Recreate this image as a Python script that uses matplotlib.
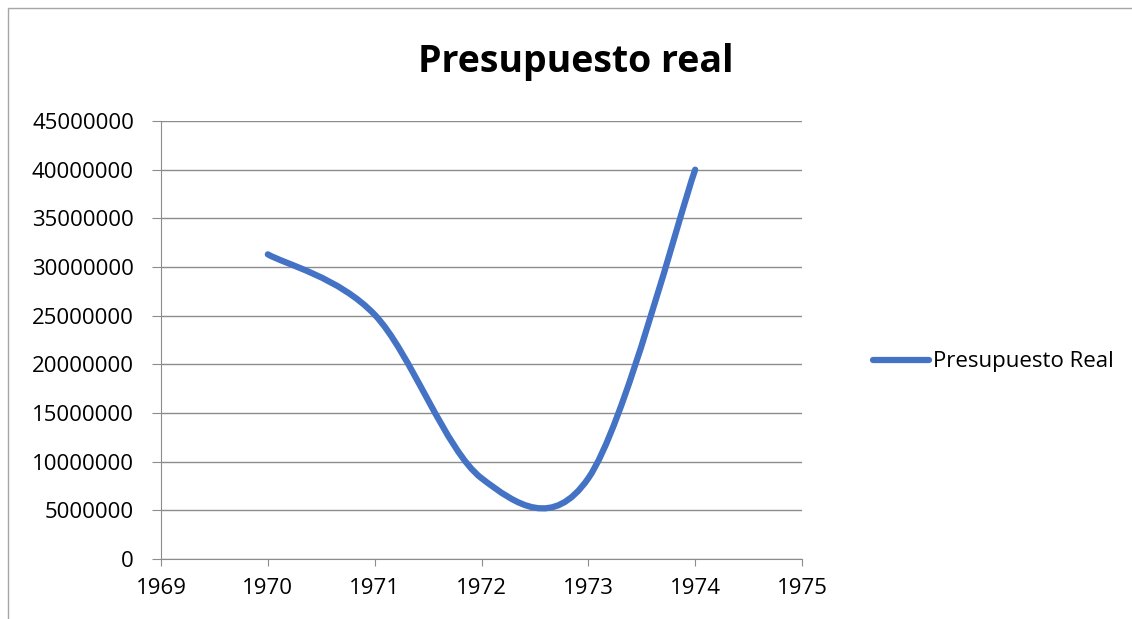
import numpy as np
import matplotlib.pyplot as plt
from matplotlib.path import Path
from matplotlib.patches import PathPatch, Rectangle
from matplotlib.lines import Line2D

# datos
anios = [1970, 1971, 1972, 1973, 1974]
presupuesto = [31300000, 25100000, 8300000, 8300000, 40000000]

plt.rcParams['font.family'] = ['Open Sans', 'DejaVu Sans']

fig = plt.figure(figsize=(11.32, 6.19), dpi=100)
ax = fig.add_axes([161 / 1132, 1 - 559 / 619, (802 - 161) / 1132, (559 - 121) / 619])

# linea suavizada tipo Excel (Bezier Catmull-Rom)
x = np.array(anios, dtype=float)
y = np.array(presupuesto, dtype=float)
pts = np.column_stack([x, y])
verts = [pts[0]]
codes = [Path.MOVETO]
n = len(pts)
for i in range(n - 1):
    p0 = pts[max(i - 1, 0)]
    p1 = pts[i]
    p2 = pts[i + 1]
    p3 = pts[min(i + 2, n - 1)]
    c1 = p1 + (p2 - p0) / 6
    c2 = p2 - (p3 - p1) / 6
    verts += [c1, c2, p2]
    codes += [Path.CURVE4] * 3
ax.add_patch(PathPatch(Path(verts, codes), facecolor='none', edgecolor='#4472C4',
                       lw=4.5, capstyle='round', joinstyle='round', zorder=3))

ax.set_xlim(1969, 1975)
ax.set_ylim(0, 45000000)
ax.set_xticks(range(1969, 1976))
ax.set_yticks(range(0, 45000001, 5000000))
ax.yaxis.set_major_formatter(plt.FuncFormatter(lambda v, p: f"{int(v)}"))
ax.grid(axis='y', color='#8c8c8c', lw=1)
ax.set_axisbelow(True)
for s in ['top', 'right']:
    ax.spines[s].set_visible(False)
for s in ['left', 'bottom']:
    ax.spines[s].set_color('#8c8c8c')
ax.tick_params(axis='both', colors='#8c8c8c', labelcolor='black', labelsize=16,
               direction='out')
ax.tick_params(axis='x', length=5, pad=9)
ax.tick_params(axis='y', length=6.5, pad=13)

fig.text(576 / 1132, 1 - 62 / 619, "Presupuesto real", ha='center', va='center',
         fontsize=27, fontweight='bold')

# leyenda
ax.legend([Line2D([0], [0], color='#4472C4', lw=4.5, solid_capstyle='round')],
          ["Presupuesto Real"], loc='center left', bbox_to_anchor=(1.08, 0.45),
          frameon=False, fontsize=16, handlelength=2.5, handletextpad=0.2)

# borde del grafico
fig.patches.append(Rectangle((8 / 1132, -0.1), 1.1, 1 - 8 / 619 + 0.1,
                             transform=fig.transFigure, fill=False,
                             edgecolor='#a6a6a6', lw=1))

fig.savefig("out.png", dpi=100)
